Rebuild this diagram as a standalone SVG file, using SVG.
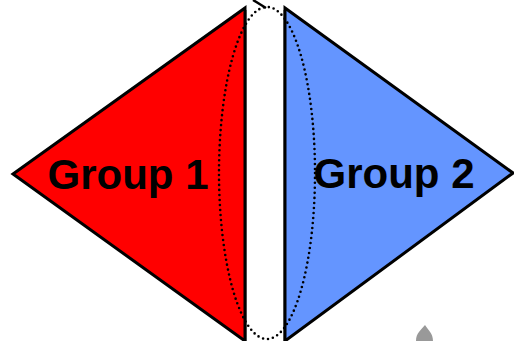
<svg xmlns="http://www.w3.org/2000/svg" width="514" height="341" viewBox="0 0 514 341">
<style>
.lbl{font-family:"Liberation Sans",Arial,sans-serif;font-weight:bold;font-size:42px;fill:#000;text-anchor:middle}
.tri{stroke:#000;stroke-width:3;stroke-linejoin:miter}
</style>
<rect width="514" height="341" fill="#fff"/>
<g id="gap">
<line x1="246.5" y1="10" x2="246.5" y2="341" stroke="#999" stroke-width="1"/>
<line x1="283.5" y1="10" x2="283.5" y2="341" stroke="#999" stroke-width="1"/>
</g>
<g id="group1">
<polygon class="tri" points="13,174 245,8 245,341" fill="#ff0000"/>
<text class="lbl" x="128" y="189">Group 1</text>
</g>
<g id="group2">
<polygon class="tri" points="285,8 285,341 513,173" fill="#6495ff"/>
<text class="lbl" x="394" y="188">Group 2</text>
</g>
<g id="connectors">
<ellipse cx="267" cy="173" rx="48" ry="166" fill="none" stroke="#000" stroke-width="2.6" stroke-dasharray="0 5" stroke-linecap="round"/>
<line x1="253" y1="0" x2="266" y2="8" stroke="#000" stroke-width="2.5"/>
</g>
<g id="marker">
<path d="M425,325 C428,330 433,333 433,341 L416,341 C416,333 421,330 425,325 Z" fill="#999"/>
</g>
</svg>
